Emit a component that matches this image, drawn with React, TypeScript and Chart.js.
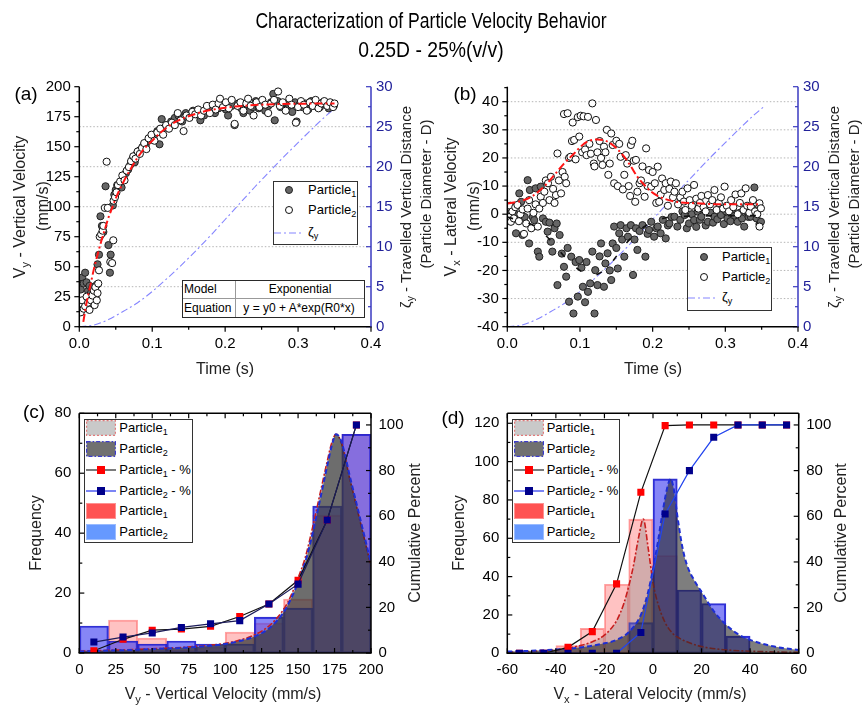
import React, { useEffect, useRef } from 'react';
import { Chart, registerables } from 'chart.js';

Chart.register(...registerables);

const FONT = '"Liberation Sans", Arial, Helvetica, sans-serif';
const PAGE_W = 862;
const PAGE_H = 706;
const LW = 60;
const RW = 50;
const XH = 40;

// ---------------- Panel (a): vertical velocity vs time ----------------
const A_X_TICKS = [0, 0.1, 0.2, 0.3, 0.4];
const A_Y_TICKS = [0, 25, 50, 75, 100, 125, 150, 175, 200];
const ZETA_TICKS = [0, 5, 10, 15, 20, 25, 30];
const A_GRID = [5, 10, 15, 20, 25];

const A_P1 = [
  [0.001, 38], [0.002, 31], [0.004, 41], [0.006, 36], [0.008, 45], [0.010, 37], [0.012, 30], [0.014, 34],
  [0.016, 28], [0.018, 33], [0.020, 29], [0.022, 25], [0.024, 35], [0.025, 52], [0.027, 60], [0.029, 92],
  [0.031, 84], [0.033, 79], [0.036, 117], [0.040, 68], [0.042, 45], [0.043, 60], [0.046, 101], [0.048, 110],
  [0.050, 114], [0.052, 118], [0.055, 119], [0.058, 116], [0.061, 123], [0.064, 128], [0.067, 131], [0.070, 135],
  [0.073, 140], [0.076, 137], [0.079, 144], [0.083, 147], [0.087, 150], [0.091, 151], [0.095, 155], [0.099, 158],
  [0.103, 160], [0.107, 163], [0.110, 152], [0.113, 173], [0.117, 166], [0.121, 168], [0.126, 171], [0.131, 174],
  [0.136, 176], [0.141, 171], [0.146, 178], [0.151, 175], [0.156, 180], [0.161, 177], [0.166, 172], [0.171, 176],
  [0.176, 181], [0.181, 183], [0.186, 178], [0.191, 182], [0.196, 186], [0.201, 181], [0.204, 176], [0.209, 184],
  [0.213, 168], [0.218, 186], [0.222, 182], [0.225, 178], [0.229, 185], [0.234, 180], [0.238, 183], [0.242, 188],
  [0.246, 182], [0.251, 186], [0.255, 180], [0.259, 184], [0.263, 187], [0.266, 194], [0.268, 172], [0.272, 188],
  [0.276, 183], [0.280, 186], [0.284, 181], [0.288, 184], [0.292, 179], [0.296, 187], [0.298, 171], [0.302, 185],
  [0.306, 183], [0.310, 186], [0.314, 181], [0.318, 188], [0.322, 184], [0.326, 186], [0.330, 183], [0.334, 187],
  [0.338, 185], [0.342, 182], [0.346, 186], [0.349, 184],
];

const A_P2 = [
  [0.001, 18], [0.002, 12], [0.004, 22], [0.006, 15], [0.008, 17], [0.010, 25], [0.012, 20], [0.014, 14],
  [0.016, 22], [0.018, 26], [0.020, 30], [0.021, 18], [0.022, 33], [0.024, 22], [0.025, 28], [0.026, 36],
  [0.027, 47], [0.028, 75], [0.030, 77], [0.032, 80], [0.033, 84], [0.035, 99], [0.0375, 137.5], [0.039, 99],
  [0.0425, 54], [0.045, 53], [0.0466, 72], [0.047, 105], [0.049, 108], [0.051, 112], [0.053, 118], [0.056, 121],
  [0.059, 126], [0.062, 122], [0.065, 130], [0.068, 133], [0.071, 138], [0.074, 142], [0.077, 140], [0.080, 146],
  [0.083, 144], [0.086, 149], [0.089, 153], [0.092, 148], [0.095, 157], [0.099, 160], [0.103, 155], [0.107, 162],
  [0.111, 165], [0.115, 160], [0.119, 168], [0.123, 165], [0.127, 170], [0.131, 168], [0.135, 178], [0.139, 172],
  [0.143, 163], [0.147, 176], [0.151, 174], [0.155, 179], [0.159, 177], [0.163, 181], [0.167, 176], [0.171, 180],
  [0.175, 184], [0.179, 178], [0.183, 185], [0.187, 181], [0.191, 186], [0.193, 190], [0.197, 183], [0.201, 187],
  [0.205, 182], [0.209, 189], [0.213, 169], [0.217, 184], [0.221, 187], [0.225, 180], [0.229, 186], [0.2315, 190],
  [0.235, 184], [0.239, 176], [0.243, 187], [0.247, 183], [0.251, 189], [0.255, 185], [0.259, 178], [0.263, 186],
  [0.267, 189], [0.2726, 196], [0.275, 184], [0.279, 187], [0.283, 180], [0.288, 190], [0.291, 185], [0.297, 170],
  [0.300, 183], [0.304, 188], [0.308, 185], [0.312, 180], [0.316, 187], [0.320, 184], [0.324, 189], [0.328, 182],
  [0.332, 186], [0.336, 188], [0.340, 184], [0.344, 187], [0.348, 183], [0.350, 186],
];

const A_FIT = [
  [0.0055, 4], [0.01, 20], [0.015, 34], [0.02, 48], [0.025, 60], [0.03, 71], [0.035, 81], [0.04, 91],
  [0.045, 99], [0.05, 107], [0.06, 120], [0.07, 131], [0.08, 141], [0.09, 149], [0.10, 155], [0.11, 161],
  [0.12, 166], [0.13, 170], [0.14, 173], [0.16, 177.5], [0.18, 180.5], [0.20, 182.5], [0.22, 183.8],
  [0.25, 185], [0.30, 185.8], [0.35, 186],
];

// travelled vertical distance (shared by panels a and b)
const ZETA = [
  [0, 0], [0.02, 0.2], [0.04, 0.9], [0.06, 1.9], [0.08, 3.0], [0.10, 4.4], [0.12, 6.0], [0.14, 7.7],
  [0.16, 9.5], [0.18, 11.4], [0.20, 13.4], [0.22, 15.4], [0.24, 17.4], [0.26, 19.3], [0.28, 21.2],
  [0.30, 23.0], [0.32, 24.8], [0.34, 26.5], [0.353, 27.5],
];

// ---------------- Panel (b): lateral velocity vs time ----------------
const B_Y_TICKS = [-40, -30, -20, -10, 0, 10, 20, 30, 40];
const B_GRID = [-30, -20, -10, 0, 10, 20, 30, 40];

const B_P1 = [
  [0.003, -0.3], [0.005, 0.3], [0.007, -1.5], [0.0073, 1.5], [0.0096, 2.7], [0.012, -6.8], [0.013, -0.1],
  [0.0165, 7.4], [0.019, 4.4], [0.021, -7.4], [0.024, -1], [0.028, 12.1], [0.030, -10.4], [0.031, 8.6],
  [0.035, -1], [0.037, -2.1], [0.039, 9.2], [0.042, -13.3], [0.044, -15.1], [0.046, 9.8], [0.049, -1.5],
  [0.053, -2.7], [0.0555, -6.2], [0.058, -3], [0.060, -9.8], [0.062, -13.3], [0.065, -5], [0.068, -3.3],
  [0.069, -25.2], [0.072, -7.4], [0.075, -14], [0.078, -18.7], [0.081, -22.2], [0.083, -12], [0.085, -31.1],
  [0.088, -15.1], [0.091, -35.3], [0.094, -17], [0.097, -29.3], [0.099, -16.3], [0.102, -19], [0.104, -25.8],
  [0.107, -31.3], [0.109, -17], [0.111, -27.6], [0.114, -24.6], [0.117, -13.3], [0.120, -35.3], [0.121, -19.9],
  [0.124, -25.2], [0.127, -15], [0.129, -10.4], [0.133, -25.8], [0.135, -17.5], [0.138, -13.9], [0.141, -20],
  [0.143, -23.4], [0.145, -10.4], [0.147, -4.4], [0.150, -12], [0.152, -19.3], [0.154, -6.8], [0.156, -3.9],
  [0.158, -9], [0.161, -15.1], [0.164, -5], [0.166, -8], [0.170, -3.9], [0.173, -21.6], [0.175, -9],
  [0.177, -5], [0.179, -12.7], [0.182, -6], [0.186, -3.9], [0.190, -15.1], [0.193, -7], [0.195, -5.6],
  [0.198, -2.7], [0.202, -8], [0.205, -5], [0.207, -4.4], [0.211, -6.8], [0.214, -2], [0.218, -8.6],
  [0.221, -4], [0.223, -3.3], [0.226, -1], [0.230, -0.9], [0.234, -4.4], [0.238, -2], [0.241, 1],
  [0.244, -0.3], [0.247, -5], [0.250, -3.3], [0.254, 0], [0.257, -2.1], [0.260, -4.5], [0.262, 0.9],
  [0.265, -2], [0.267, -0.9], [0.271, 1.5], [0.273, -4], [0.276, -2.7], [0.280, 0.5], [0.283, -3],
  [0.285, -0.9], [0.289, -1.8], [0.292, 2], [0.294, -0.3], [0.298, -3.5], [0.301, 1], [0.303, -1.5],
  [0.307, -2.5], [0.310, 1.5], [0.313, -0.5], [0.317, -2.7], [0.320, 0.5], [0.323, -1.5], [0.326, -4.4],
  [0.329, 1], [0.332, -1], [0.335, -0.9], [0.338, 2], [0.340, 9.5], [0.343, -1.5], [0.347, -3.5], [0.349, -2.7],
];

const B_P2 = [
  [0.001, -1], [0.003, -1], [0.004, 3], [0.005, -2.7], [0.007, 1], [0.009, -1.5], [0.011, 2.5], [0.014, 3.3],
  [0.016, -2.5], [0.018, 0], [0.021, 1.7], [0.023, -7], [0.026, -3.3], [0.028, 2], [0.030, 5], [0.033, -5],
  [0.036, 0.5], [0.039, 3.5], [0.042, -4.4], [0.044, 2], [0.046, 6.2], [0.049, 4], [0.051, 8], [0.053, 12],
  [0.056, 11], [0.058, 5], [0.060, 13.3], [0.063, 9], [0.065, 4], [0.067, 6.8], [0.069, 21.6], [0.071, 12],
  [0.074, 7.4], [0.076, 15], [0.078, 35.6], [0.079, 13.3], [0.081, 11], [0.083, 35.9], [0.085, 20],
  [0.087, 20.4], [0.089, 26], [0.090, 32.6], [0.092, 26.4], [0.094, 19.5], [0.097, 34.5], [0.099, 27.6],
  [0.101, 35], [0.103, 22], [0.105, 34.8], [0.107, 23], [0.109, 21], [0.111, 34.6], [0.113, 25], [0.115, 21.5],
  [0.117, 39.4], [0.119, 18], [0.120, 17], [0.122, 33.5], [0.124, 22], [0.127, 26], [0.129, 20], [0.131, 17.5],
  [0.133, 24], [0.135, 22], [0.137, 30], [0.139, 14], [0.141, 18], [0.143, 28.7], [0.145, 24.6], [0.147, 11],
  [0.150, 26.1], [0.152, 10], [0.154, 25], [0.156, 20.4], [0.159, 8.8], [0.161, 14], [0.163, 21], [0.165, 18],
  [0.167, 10], [0.169, 6.5], [0.170, 24.6], [0.172, 26.1], [0.174, 19], [0.176, 4.4], [0.177, 19.3],
  [0.179, 8], [0.182, 11], [0.184, 12], [0.186, 17], [0.189, 6.2], [0.191, 23.4], [0.193, 10], [0.195, 15.7],
  [0.198, 9.8], [0.200, 15], [0.203, 11], [0.205, 4], [0.207, 16.9], [0.209, 4.4], [0.211, 7], [0.213, 12.7],
  [0.216, 8.6], [0.218, 11], [0.221, 3], [0.223, 9], [0.225, 11.6], [0.228, 6], [0.230, 8], [0.232, 11],
  [0.235, 3.5], [0.238, 6], [0.241, 8], [0.243, 4.5], [0.245, 1.5], [0.248, 9.2], [0.251, 5], [0.254, 3],
  [0.257, 10.4], [0.260, 5.5], [0.263, 2], [0.265, 4], [0.267, 6.5], [0.270, 2.5], [0.273, 1], [0.276, 6.8],
  [0.279, 3.5], [0.282, 5], [0.285, 8.6], [0.288, 1.5], [0.291, 4], [0.294, 6], [0.297, 2], [0.299, 9.8],
  [0.302, 3], [0.305, 1], [0.308, 5], [0.311, 2.5], [0.314, 7], [0.317, 0], [0.320, 4], [0.322, 7.4],
  [0.325, 1.5], [0.328, 9.2], [0.330, 3], [0.333, 0.5], [0.335, 2.7], [0.338, 5], [0.341, 1], [0.344, 0],
  [0.347, 3.9], [0.347, -4.4], [0.349, 2.1],
];

const B_FIT_RED = [
  [0, 3.8], [0.02, 4.8], [0.033, 6.2], [0.045, 8.5], [0.055, 11], [0.065, 14], [0.078, 18], [0.092, 21.6],
  [0.10, 23.8], [0.11, 25.8], [0.124, 26.6], [0.138, 25.8], [0.15, 23.5], [0.161, 20.4], [0.17, 17],
  [0.179, 13.3], [0.19, 10], [0.198, 8.0], [0.205, 6.8], [0.216, 5.5], [0.23, 4.5], [0.258, 3.9],
  [0.30, 3.5], [0.347, 3.5],
];

const B_FIT_BLACK = [
  [0, -1], [0.02, -2.5], [0.04, -4.5], [0.05, -6.8], [0.06, -9.5], [0.07, -12.5], [0.08, -15.5], [0.09, -18],
  [0.10, -20], [0.11, -21.3], [0.12, -21.6], [0.13, -20.5], [0.14, -18.3], [0.15, -15], [0.16, -11.5],
  [0.17, -8.5], [0.18, -6], [0.19, -4.2], [0.20, -2.8], [0.21, -1.8], [0.22, -1.2], [0.24, -0.8],
  [0.27, -0.6], [0.30, -0.5], [0.35, -0.5],
];

// ---------------- Panel (c): histogram of vertical velocity ----------------
const C_X_TICKS = [0, 25, 50, 75, 100, 125, 150, 175, 200];
const C_Y_TICKS = [0, 20, 40, 60, 80];
const PCT_TICKS = [0, 20, 40, 60, 80, 100];
const C_BINS = [10, 30, 50, 70, 90, 110, 130, 150, 170, 190];
const C_P1_FREQ = [1, 11, 5, 1, 2, 7, 10, 18, 46, 73];
const C_P2_FREQ = [9, 4, 3, 4, 3, 3, 12, 15, 49, 73];
const C_P1_CUM = [1, 6, 10, 10.5, 11.7, 16, 21.5, 31.9, 58.3, 100];
const C_P2_CUM = [4.8, 7, 8.8, 11.2, 12.8, 14.2, 21.5, 30.2, 58.3, 100];
const C_CURVE_X = [0, 20, 40, 60, 80, 100, 110, 120, 130, 140, 145, 150, 155, 160, 165, 170, 173, 176, 179, 182, 185, 188, 191, 194, 197, 200];
const C_P1_CURVE = [0.6, 0.9, 1.2, 1.6, 2.2, 3.2, 4.3, 6.0, 9.0, 14.5, 19, 25, 32, 42, 53, 64, 70, 73, 71, 66, 59, 53, 47, 41, 35, 29];
const C_P2_CURVE = [0.5, 0.8, 1.1, 1.5, 2.0, 3.0, 4.0, 5.5, 8.2, 13.5, 18, 23.5, 30.5, 40, 51, 62.5, 69, 73, 71.5, 66.5, 60, 54, 48, 42, 36, 30];

// ---------------- Panel (d): histogram of lateral velocity ----------------
const D_X_TICKS = [-60, -40, -20, 0, 20, 40, 60];
const D_Y_TICKS = [0, 20, 40, 60, 80, 100, 120];
const D_BINS = [-55, -45, -35, -25, -15, -5, 5, 15, 25, 35, 45, 55];
const D_P1_FREQ = [0, 0, 4, 13, 36, 70, 51, 0, 0, 0, 0, 0];
const D_P2_FREQ = [0, 0, 0, 0, 0, 16, 91, 33, 26, 9, 0, 0];
const D_P1_CUM = [0, 0, 2.6, 9.5, 30.4, 70.5, 99.7, 100, 100, 100, 100, 100];
const D_P2_CUM = [0, 0, 0, 0, 0, 9.1, 61, 80, 94.6, 100, 100, 100];
const D_P1_CURVE_X = [-60, -50, -40, -30, -25, -20, -15, -12, -10, -8, -6, -4, -2, 0, 2, 5, 8, 10, 15, 20, 30, 40, 50, 60];
const D_P1_CURVE = [0.6, 1.0, 1.8, 4.0, 6, 9.5, 17, 26, 35, 46, 60, 70, 55, 37, 26, 16, 10.5, 8.5, 5.5, 3.5, 1.8, 1.1, 0.7, 0.5];
const D_P2_CURVE_X = [-60, -50, -40, -30, -20, -15, -10, -5, -2, 0, 2, 4, 6, 7.2, 8.5, 10, 12, 14, 17, 20, 25, 30, 35, 40, 50, 60];
const D_P2_CURVE = [0.9, 1.3, 2, 3, 5.2, 7, 11, 20, 32, 44, 58, 74, 87, 91, 86, 72, 56, 46, 38, 32, 22, 15, 10, 7, 3.5, 1.7];

// ---------------- helpers ----------------
const pts = (arr: number[][]) => arr.map(([x, y]) => ({ x, y }));
const zip = (xs: number[], ys: number[]) => xs.map((x, i) => ({ x, y: ys[i] }));

function makeAxes(spec: any) {
  return {
    id: 'originAxes',
    beforeDatasetsDraw(chart: any) {
      const { ctx, chartArea: ca } = chart;
      (spec.grid || []).forEach((g: any) => {
        const s = chart.scales[g.scale];
        ctx.save();
        ctx.strokeStyle = g.color;
        ctx.lineWidth = 1;
        ctx.setLineDash([1.5, 2]);
        g.values.forEach((v: number) => {
          const y = s.getPixelForValue(v);
          ctx.beginPath();
          ctx.moveTo(ca.left, y);
          ctx.lineTo(ca.right, y);
          ctx.stroke();
        });
        ctx.restore();
      });
    },
    afterDatasetsDraw(chart: any) {
      const { ctx, chartArea: ca } = chart;
      ctx.save();
      ctx.setLineDash([]);
      spec.ticks.forEach((t: any) => {
        const s = chart.scales[t.scale];
        const k0 = Math.ceil(s.min / t.minor - 1e-6);
        const k1 = Math.floor(s.max / t.minor + 1e-6);
        ctx.strokeStyle = t.color;
        ctx.lineWidth = 1.2;
        for (let k = k0; k <= k1; k++) {
          const v = k * t.minor;
          const r = v / t.major;
          const len = Math.abs(r - Math.round(r)) < 1e-6 ? 5 : 3;
          const p = s.getPixelForValue(v);
          ctx.beginPath();
          if (t.side === 'bottom') {
            const sg = t.dir === 'out' ? 1 : -1;
            ctx.moveTo(p, ca.bottom); ctx.lineTo(p, ca.bottom + sg * len);
          } else if (t.side === 'top') {
            const sg = t.dir === 'out' ? -1 : 1;
            ctx.moveTo(p, ca.top); ctx.lineTo(p, ca.top + sg * len);
          } else if (t.side === 'left') {
            const sg = t.dir === 'out' ? -1 : 1;
            ctx.moveTo(ca.left, p); ctx.lineTo(ca.left + sg * len, p);
          } else {
            const sg = t.dir === 'out' ? 1 : -1;
            ctx.moveTo(ca.right, p); ctx.lineTo(ca.right + sg * len, p);
          }
          ctx.stroke();
        }
      });
      spec.lines.forEach((l: any) => {
        ctx.strokeStyle = l.color;
        ctx.lineWidth = 1.5;
        ctx.beginPath();
        if (l.side === 'left') { ctx.moveTo(ca.left, ca.top); ctx.lineTo(ca.left, ca.bottom); }
        else if (l.side === 'right') { ctx.moveTo(ca.right, ca.top); ctx.lineTo(ca.right, ca.bottom); }
        else if (l.side === 'top') { ctx.moveTo(ca.left, ca.top); ctx.lineTo(ca.right, ca.top); }
        else { ctx.moveTo(ca.left - 0.75, ca.bottom); ctx.lineTo(ca.right + 0.75, ca.bottom); }
        ctx.stroke();
      });
      ctx.restore();
    },
  };
}

function scale(opts: any) {
  const { pos, min, max, ticks, fmt, color, padding, fit } = opts;
  return {
    type: 'linear',
    position: pos,
    min,
    max,
    offset: false,
    afterBuildTicks: (s: any) => { s.ticks = ticks.map((v: number) => ({ value: v })); },
    afterFit: (s: any) => {
      if (pos === 'bottom') s.height = fit; else s.width = fit;
    },
    grid: { display: false, drawTicks: false, offset: false },
    border: { display: false },
    ticks: {
      autoSkip: false,
      maxRotation: 0,
      padding,
      color: color || '#000',
      font: { family: FONT, size: 15 },
      callback: (v: number) => (fmt ? fmt(v) : String(v)),
    },
  };
}

function baseOptions(area: any, scales: any) {
  return {
    responsive: false,
    animation: false,
    devicePixelRatio: 1,
    events: [],
    layout: {
      padding: {
        left: area.l - LW,
        right: PAGE_W - area.r - RW,
        top: area.t,
        bottom: PAGE_H - area.b - XH,
      },
    },
    plugins: { legend: { display: false }, tooltip: { enabled: false }, title: { display: false } },
    scales,
  };
}

const BLUE_AXIS = '#3a3ac0';
const BLUE_TEXT = '#22229a';

function timeScales(yMin: number, yMax: number, yTicks: number[]) {
  return {
    x: scale({ pos: 'bottom', min: 0, max: 0.4, ticks: A_X_TICKS, fmt: (v: number) => v.toFixed(1), padding: 8, fit: XH }),
    y: scale({ pos: 'left', min: yMin, max: yMax, ticks: yTicks, padding: 8.5, fit: LW }),
    y1: scale({ pos: 'right', min: 0, max: 30, ticks: ZETA_TICKS, color: BLUE_TEXT, padding: 5, fit: RW }),
  };
}

function zetaDataset() {
  return {
    type: 'line', data: pts(ZETA), yAxisID: 'y1', borderColor: '#8585ff', borderWidth: 1.1,
    borderDash: [7, 3, 2, 3], pointRadius: 0, fill: false, cubicInterpolationMode: 'monotone', order: 9,
  };
}

function p1Points(d: number[][], order: number) {
  return {
    type: 'scatter', data: pts(d), yAxisID: 'y', pointRadius: 3.6, pointBackgroundColor: '#666666',
    pointBorderColor: '#222222', pointBorderWidth: 1, order,
  };
}
function p2Points(d: number[][], order: number) {
  return {
    type: 'scatter', data: pts(d), yAxisID: 'y', pointRadius: 3.6, pointBackgroundColor: '#ffffff',
    pointBorderColor: '#111111', pointBorderWidth: 1, order,
  };
}

function configA() {
  return {
    type: 'scatter',
    data: {
      datasets: [
        {
          type: 'line', data: pts(A_FIT), yAxisID: 'y', borderColor: '#ff1414', borderWidth: 2,
          borderDash: [8, 3, 2, 3], pointRadius: 0, fill: false, cubicInterpolationMode: 'monotone', order: 0,
        },
        p2Points(A_P2, 1),
        p1Points(A_P1, 2),
        zetaDataset(),
      ],
    },
    options: baseOptions({ l: 79.3, r: 371, t: 86.7, b: 326.7 }, timeScales(0, 200, A_Y_TICKS)),
    plugins: [makeAxes({
      grid: [{ scale: 'y1', values: A_GRID, color: '#b5b5b5' }],
      ticks: [
        { scale: 'x', side: 'bottom', major: 0.1, minor: 0.05, dir: 'out', color: '#000' },
        { scale: 'y', side: 'left', major: 25, minor: 12.5, dir: 'out', color: '#000' },
        { scale: 'y1', side: 'right', major: 5, minor: 2.5, dir: 'in', color: BLUE_AXIS },
      ],
      lines: [{ side: 'left', color: '#000' }, { side: 'bottom', color: '#000' }, { side: 'right', color: BLUE_AXIS }],
    })],
  };
}

function configB() {
  return {
    type: 'scatter',
    data: {
      datasets: [
        {
          type: 'line', data: pts(B_FIT_RED), yAxisID: 'y', borderColor: '#ff1414', borderWidth: 2,
          borderDash: [8, 3, 2, 3], pointRadius: 0, fill: false, cubicInterpolationMode: 'monotone', order: 0,
        },
        {
          type: 'line', data: pts(B_FIT_BLACK), yAxisID: 'y', borderColor: '#111', borderWidth: 1.6,
          borderDash: [6, 16], pointRadius: 0, fill: false, cubicInterpolationMode: 'monotone', order: 1,
        },
        p2Points(B_P2, 2),
        p1Points(B_P1, 3),
        zetaDataset(),
      ],
    },
    options: baseOptions({ l: 507.3, r: 798, t: 86.7, b: 326.7 }, timeScales(-40, 45.33, B_Y_TICKS)),
    plugins: [makeAxes({
      grid: [{ scale: 'y', values: B_GRID, color: '#b5b5b5' }],
      ticks: [
        { scale: 'x', side: 'bottom', major: 0.1, minor: 0.05, dir: 'out', color: '#000' },
        { scale: 'y', side: 'left', major: 10, minor: 5, dir: 'out', color: '#000' },
        { scale: 'y1', side: 'right', major: 5, minor: 2.5, dir: 'in', color: BLUE_AXIS },
      ],
      lines: [{ side: 'left', color: '#000' }, { side: 'bottom', color: '#000' }, { side: 'right', color: BLUE_AXIS }],
    })],
  };
}

function histConfig(p: any) {
  const barCommon = { type: 'bar', yAxisID: 'y', barPercentage: 1, categoryPercentage: 1, grouped: false, borderSkipped: false };
  return {
    type: 'bar',
    data: {
      datasets: [
        {
          type: 'line', data: zip(p.bins, p.p2cum), yAxisID: 'y1', borderColor: p.p2LineColor, borderWidth: 1.2,
          pointStyle: 'rect', pointRadius: 5, pointBackgroundColor: '#00008b', pointBorderColor: '#00008b',
          pointBorderWidth: 0, fill: false, order: 0,
        },
        {
          type: 'line', data: zip(p.bins, p.p1cum), yAxisID: 'y1', borderColor: '#111', borderWidth: 1.2,
          pointStyle: 'rect', pointRadius: 5, pointBackgroundColor: '#ff0000', pointBorderColor: '#ff0000',
          pointBorderWidth: 0, fill: false, order: 1,
        },
        {
          type: 'line', data: zip(p.c2x, p.c2), yAxisID: 'y', borderColor: '#1e2ed2', borderWidth: 2,
          borderDash: [5, 3], backgroundColor: 'rgba(40,40,40,0.6)', fill: 'origin', pointRadius: 0,
          cubicInterpolationMode: 'monotone', order: 2,
        },
        {
          type: 'line', data: zip(p.c1x, p.c1), yAxisID: 'y', borderColor: '#c81e1e', borderWidth: 1.6,
          borderDash: [6, 2, 2, 2], backgroundColor: 'rgba(130,130,130,0.35)', fill: 'origin', pointRadius: 0,
          cubicInterpolationMode: 'monotone', order: 3,
        },
        {
          ...barCommon, data: zip(p.bins, p.f2), backgroundColor: 'rgba(60,60,240,0.62)',
          borderColor: 'rgba(25,25,205,0.9)', borderWidth: 1.5, order: 4,
        },
        {
          ...barCommon, data: zip(p.bins, p.f1), backgroundColor: 'rgba(255,70,70,0.33)',
          borderColor: 'rgba(255,110,110,0.65)', borderWidth: 1.2, order: 5,
        },
      ],
    },
    options: baseOptions(p.area, {
      x: scale({ pos: 'bottom', min: p.xMin, max: p.xMax, ticks: p.xTicks, padding: 8, fit: XH }),
      y: scale({ pos: 'left', min: 0, max: p.yMax, ticks: p.yTicks, padding: 8, fit: LW }),
      y1: scale({ pos: 'right', min: 0, max: 105.1, ticks: PCT_TICKS, padding: 7.5, fit: RW }),
    }),
    plugins: [makeAxes({
      ticks: [
        { scale: 'x', side: 'bottom', major: p.xMajor, minor: p.xMinor, dir: 'in', color: '#000' },
        { scale: 'x', side: 'top', major: p.xMajor, minor: p.xMinor, dir: 'in', color: '#000' },
        { scale: 'y', side: 'left', major: 20, minor: 10, dir: 'in', color: '#000' },
        { scale: 'y1', side: 'right', major: 20, minor: 10, dir: 'in', color: '#000' },
      ],
      lines: [{ side: 'left', color: '#000' }, { side: 'bottom', color: '#000' }, { side: 'right', color: '#000' }, { side: 'top', color: '#000' }],
    })],
  };
}

function configC() {
  return histConfig({
    area: { l: 79.3, r: 371, t: 413.3, b: 653 },
    bins: C_BINS, f1: C_P1_FREQ, f2: C_P2_FREQ, p1cum: C_P1_CUM, p2cum: C_P2_CUM,
    c1x: C_CURVE_X, c1: C_P1_CURVE, c2x: C_CURVE_X, c2: C_P2_CURVE,
    xMin: 0, xMax: 200, xTicks: C_X_TICKS, xMajor: 25, xMinor: 12.5,
    yMax: 80, yTicks: C_Y_TICKS, p2LineColor: '#1c1c5a',
  });
}

function configD() {
  return histConfig({
    area: { l: 507.3, r: 798.7, t: 413.3, b: 653.3 },
    bins: D_BINS, f1: D_P1_FREQ, f2: D_P2_FREQ, p1cum: D_P1_CUM, p2cum: D_P2_CUM,
    c1x: D_P1_CURVE_X, c1: D_P1_CURVE, c2x: D_P2_CURVE_X, c2: D_P2_CURVE,
    xMin: -60, xMax: 60, xTicks: D_X_TICKS, xMajor: 20, xMinor: 10,
    yMax: 125.2, yTicks: D_Y_TICKS, p2LineColor: '#2244ee',
  });
}

// ---------------- React components ----------------
function ChartCanvas({ make }: { make: () => any }) {
  const ref = useRef<HTMLCanvasElement>(null);
  useEffect(() => {
    const chart = new Chart(ref.current as HTMLCanvasElement, make());
    return () => chart.destroy();
  }, []);
  return (
    <canvas
      ref={ref}
      width={PAGE_W}
      height={PAGE_H}
      style={{ position: 'absolute', left: 0, top: 0, width: PAGE_W, height: PAGE_H }}
    />
  );
}

const Sub = ({ c }: { c: string }) => (
  <span style={{ fontSize: '0.7em', position: 'relative', top: '0.32em' }}>{c}</span>
);

function T({ x, y, size, rot, color, anchor, sx, children }: any) {
  const squeeze = sx ? ` scaleX(${sx})` : '';
  const tf = rot
    ? 'translate(-50%,-50%) rotate(-90deg)'
    : anchor === 'left'
      ? 'translate(0,-50%)'
      : `translate(-50%,-50%)${squeeze}`;
  return (
    <div
      style={{
        position: 'absolute', left: x, top: y, transform: tf, fontSize: size, lineHeight: 1,
        whiteSpace: 'nowrap', color: color || '#000', fontFamily: FONT,
      }}
    >
      {children}
    </div>
  );
}

function Box({ l, t, r, b, bg, border }: any) {
  return (
    <div
      style={{
        position: 'absolute', left: l, top: t, width: r - l, height: b - t, boxSizing: 'border-box',
        background: bg || '#fff', border: border || '1.5px solid #333',
      }}
    />
  );
}

function Svg({ x, y, w, h, children }: any) {
  return (
    <svg width={w} height={h} style={{ position: 'absolute', left: x, top: y, overflow: 'visible' }}>
      {children}
    </svg>
  );
}

function ScatterLegend({ l, t, r, b, sx, tx, rows, lineX0, lineX1 }: any) {
  return (
    <>
      <Box l={l} t={t} r={r} b={b} />
      <Svg x={sx - 5} y={rows[0] - 5} w={10} h={10}>
        <circle cx={5} cy={5} r={3.5} fill="#666" stroke="#222" strokeWidth={1} />
      </Svg>
      <T x={tx} y={rows[0]} size={13} anchor="left">Particle<Sub c="1" /></T>
      <Svg x={sx - 5} y={rows[1] - 5} w={10} h={10}>
        <circle cx={5} cy={5} r={3.5} fill="#fff" stroke="#111" strokeWidth={1} />
      </Svg>
      <T x={tx} y={rows[1]} size={13} anchor="left">Particle<Sub c="2" /></T>
      <Svg x={lineX0} y={rows[2] - 3} w={lineX1 - lineX0} h={6}>
        <line x1={0} y1={3} x2={lineX1 - lineX0} y2={3} stroke="#8585ff" strokeWidth={1.1} strokeDasharray="7 3 2 3" />
      </Svg>
      <T x={tx} y={rows[2] - 1} size={13} anchor="left">ζ<Sub c="y" /></T>
    </>
  );
}

function HistLegend({ l, t, r, b, s0, s1, tx, rows }: any) {
  const w = s1 - s0;
  const mid = w / 2;
  return (
    <>
      <Box l={l} t={t} r={r} b={b} />
      <Svg x={s0} y={rows[0] - 8} w={w} h={16}>
        <rect x={0.6} y={0.6} width={w - 1.2} height={14.8} fill="#c9c9c9" stroke="#e07a7a" strokeWidth={1.2} strokeDasharray="2 2" />
      </Svg>
      <T x={tx} y={rows[0]} size={13} anchor="left">Particle<Sub c="1" /></T>
      <Svg x={s0} y={rows[1] - 8} w={w} h={16}>
        <rect x={0.6} y={0.6} width={w - 1.2} height={14.8} fill="#707070" stroke="#3b3bcc" strokeWidth={1.2} strokeDasharray="4 2 1.5 2" />
      </Svg>
      <T x={tx} y={rows[1]} size={13} anchor="left">Particle<Sub c="2" /></T>
      <Svg x={s0} y={rows[2] - 5} w={w} h={10}>
        <line x1={0} y1={5} x2={w} y2={5} stroke="#222" strokeWidth={1.2} />
        <rect x={mid - 4} y={1} width={8} height={8} fill="#ff0000" />
      </Svg>
      <T x={tx} y={rows[2]} size={13} anchor="left">Particle<Sub c="1" /> - %</T>
      <Svg x={s0} y={rows[3] - 5} w={w} h={10}>
        <line x1={0} y1={5} x2={w} y2={5} stroke="#2233ee" strokeWidth={1.2} />
        <rect x={mid - 4} y={1} width={8} height={8} fill="#00008b" />
      </Svg>
      <T x={tx} y={rows[3]} size={13} anchor="left">Particle<Sub c="2" /> - %</T>
      <Svg x={s0} y={rows[4] - 8} w={w} h={16}>
        <rect x={0.5} y={0.5} width={w - 1} height={15} fill="#ff5252" stroke="#ff9090" strokeWidth={1} />
      </Svg>
      <T x={tx} y={rows[4]} size={13} anchor="left">Particle<Sub c="1" /></T>
      <Svg x={s0} y={rows[5] - 8} w={w} h={16}>
        <rect x={0.5} y={0.5} width={w - 1} height={15} fill="#6699ff" stroke="#99bbff" strokeWidth={1} />
      </Svg>
      <T x={tx} y={rows[5]} size={13} anchor="left">Particle<Sub c="2" /></T>
    </>
  );
}

export default function App() {
  return (
    <div
      style={{
        position: 'fixed', left: 0, top: 0, width: PAGE_W, height: PAGE_H, background: '#fff',
        overflow: 'hidden', fontFamily: FONT,
      }}
    >
      <ChartCanvas make={configA} />
      <ChartCanvas make={configB} />
      <ChartCanvas make={configC} />
      <ChartCanvas make={configD} />

      {/* Title */}
      <T x={431} y={21} size={22} sx={0.8}>Characterization of Particle Velocity Behavior</T>
      <T x={431} y={50} size={22} sx={0.88}>0.25D - 25%(v/v)</T>

      {/* Panel labels */}
      <T x={26} y={93} size={19}>(a)</T>
      <T x={465} y={93} size={19}>(b)</T>
      <T x={34} y={411} size={19}>(c)</T>
      <T x={453} y={417} size={19}>(d)</T>

      {/* Panel (a) axis titles */}
      <T x={20} y={207} size={16} rot color="#222">V<Sub c="y" /> - Vertical Velocity</T>
      <T x={43} y={206} size={16} rot color="#222">(mm/s)</T>
      <T x={225} y={369} size={16} color="#222">Time (s)</T>
      <T x={405} y={207} size={15} rot color="#222">ζ<Sub c="y" /> - Travelled Vertical Distance</T>
      <T x={425} y={194} size={15} rot color="#222">(Particle Diameter - D)</T>

      {/* Panel (b) axis titles */}
      <T x={451} y={207} size={16} rot color="#222">V<Sub c="x" /> - Lateral Velocity</T>
      <T x={474} y={206} size={16} rot color="#222">(mm/s)</T>
      <T x={653} y={369} size={16} color="#222">Time (s)</T>
      <T x={833} y={207} size={15} rot color="#222">ζ<Sub c="y" /> - Travelled Vertical Distance</T>
      <T x={853} y={194} size={15} rot color="#222">(Particle Diameter - D)</T>

      {/* Panel (c) axis titles */}
      <T x={36} y={533} size={16} rot color="#222">Frequency</T>
      <T x={415} y={533} size={16} rot color="#222">Cumulative Percent</T>
      <T x={223} y={694} size={16} color="#222">V<Sub c="y" /> - Vertical Velocity (mm/s)</T>

      {/* Panel (d) axis titles */}
      <T x={459} y={533} size={16} rot color="#222">Frequency</T>
      <T x={841} y={533} size={16} rot color="#222">Cumulative Percent</T>
      <T x={650} y={694} size={16} color="#222">V<Sub c="x" /> - Lateral Velocity (mm/s)</T>

      {/* Panel (a) legend */}
      <ScatterLegend l={273} t={181} r={358} b={245} sx={289} tx={308} rows={[190, 210, 233]} lineX0={274} lineX1={302} />
      {/* Panel (a) fit table */}
      <Box l={182} t={280} r={365} b={317.5} border="1.5px solid #2a2a2a" />
      <div style={{ position: 'absolute', left: 235, top: 281, width: 1, height: 35.5, background: '#999' }} />
      <div style={{ position: 'absolute', left: 183, top: 298, width: 181, height: 1, background: '#999' }} />
      <T x={184} y={289} size={12} anchor="left">Model</T>
      <T x={300} y={289} size={12}>Exponential</T>
      <T x={184} y={307.5} size={12} anchor="left">Equation</T>
      <T x={299} y={307.5} size={12}>y = y0 + A*exp(R0*x)</T>

      {/* Panel (b) legend */}
      <ScatterLegend l={687} t={247} r={772} b={311} sx={704} tx={722} rows={[257, 277, 298]} lineX0={688} lineX1={716} />

      {/* Panel (c) legend */}
      <HistLegend l={84} t={419} r={193.3} b={543.3} s0={86} s1={116} tx={119.3} rows={[428.3, 449.3, 470, 490.7, 511, 531.7]} />
      {/* Panel (d) legend */}
      <HistLegend l={512} t={419} r={620.3} b={543.3} s0={514} s1={544} tx={546.7} rows={[428.3, 449.3, 470, 490.7, 511, 531.7]} />
    </div>
  );
}
